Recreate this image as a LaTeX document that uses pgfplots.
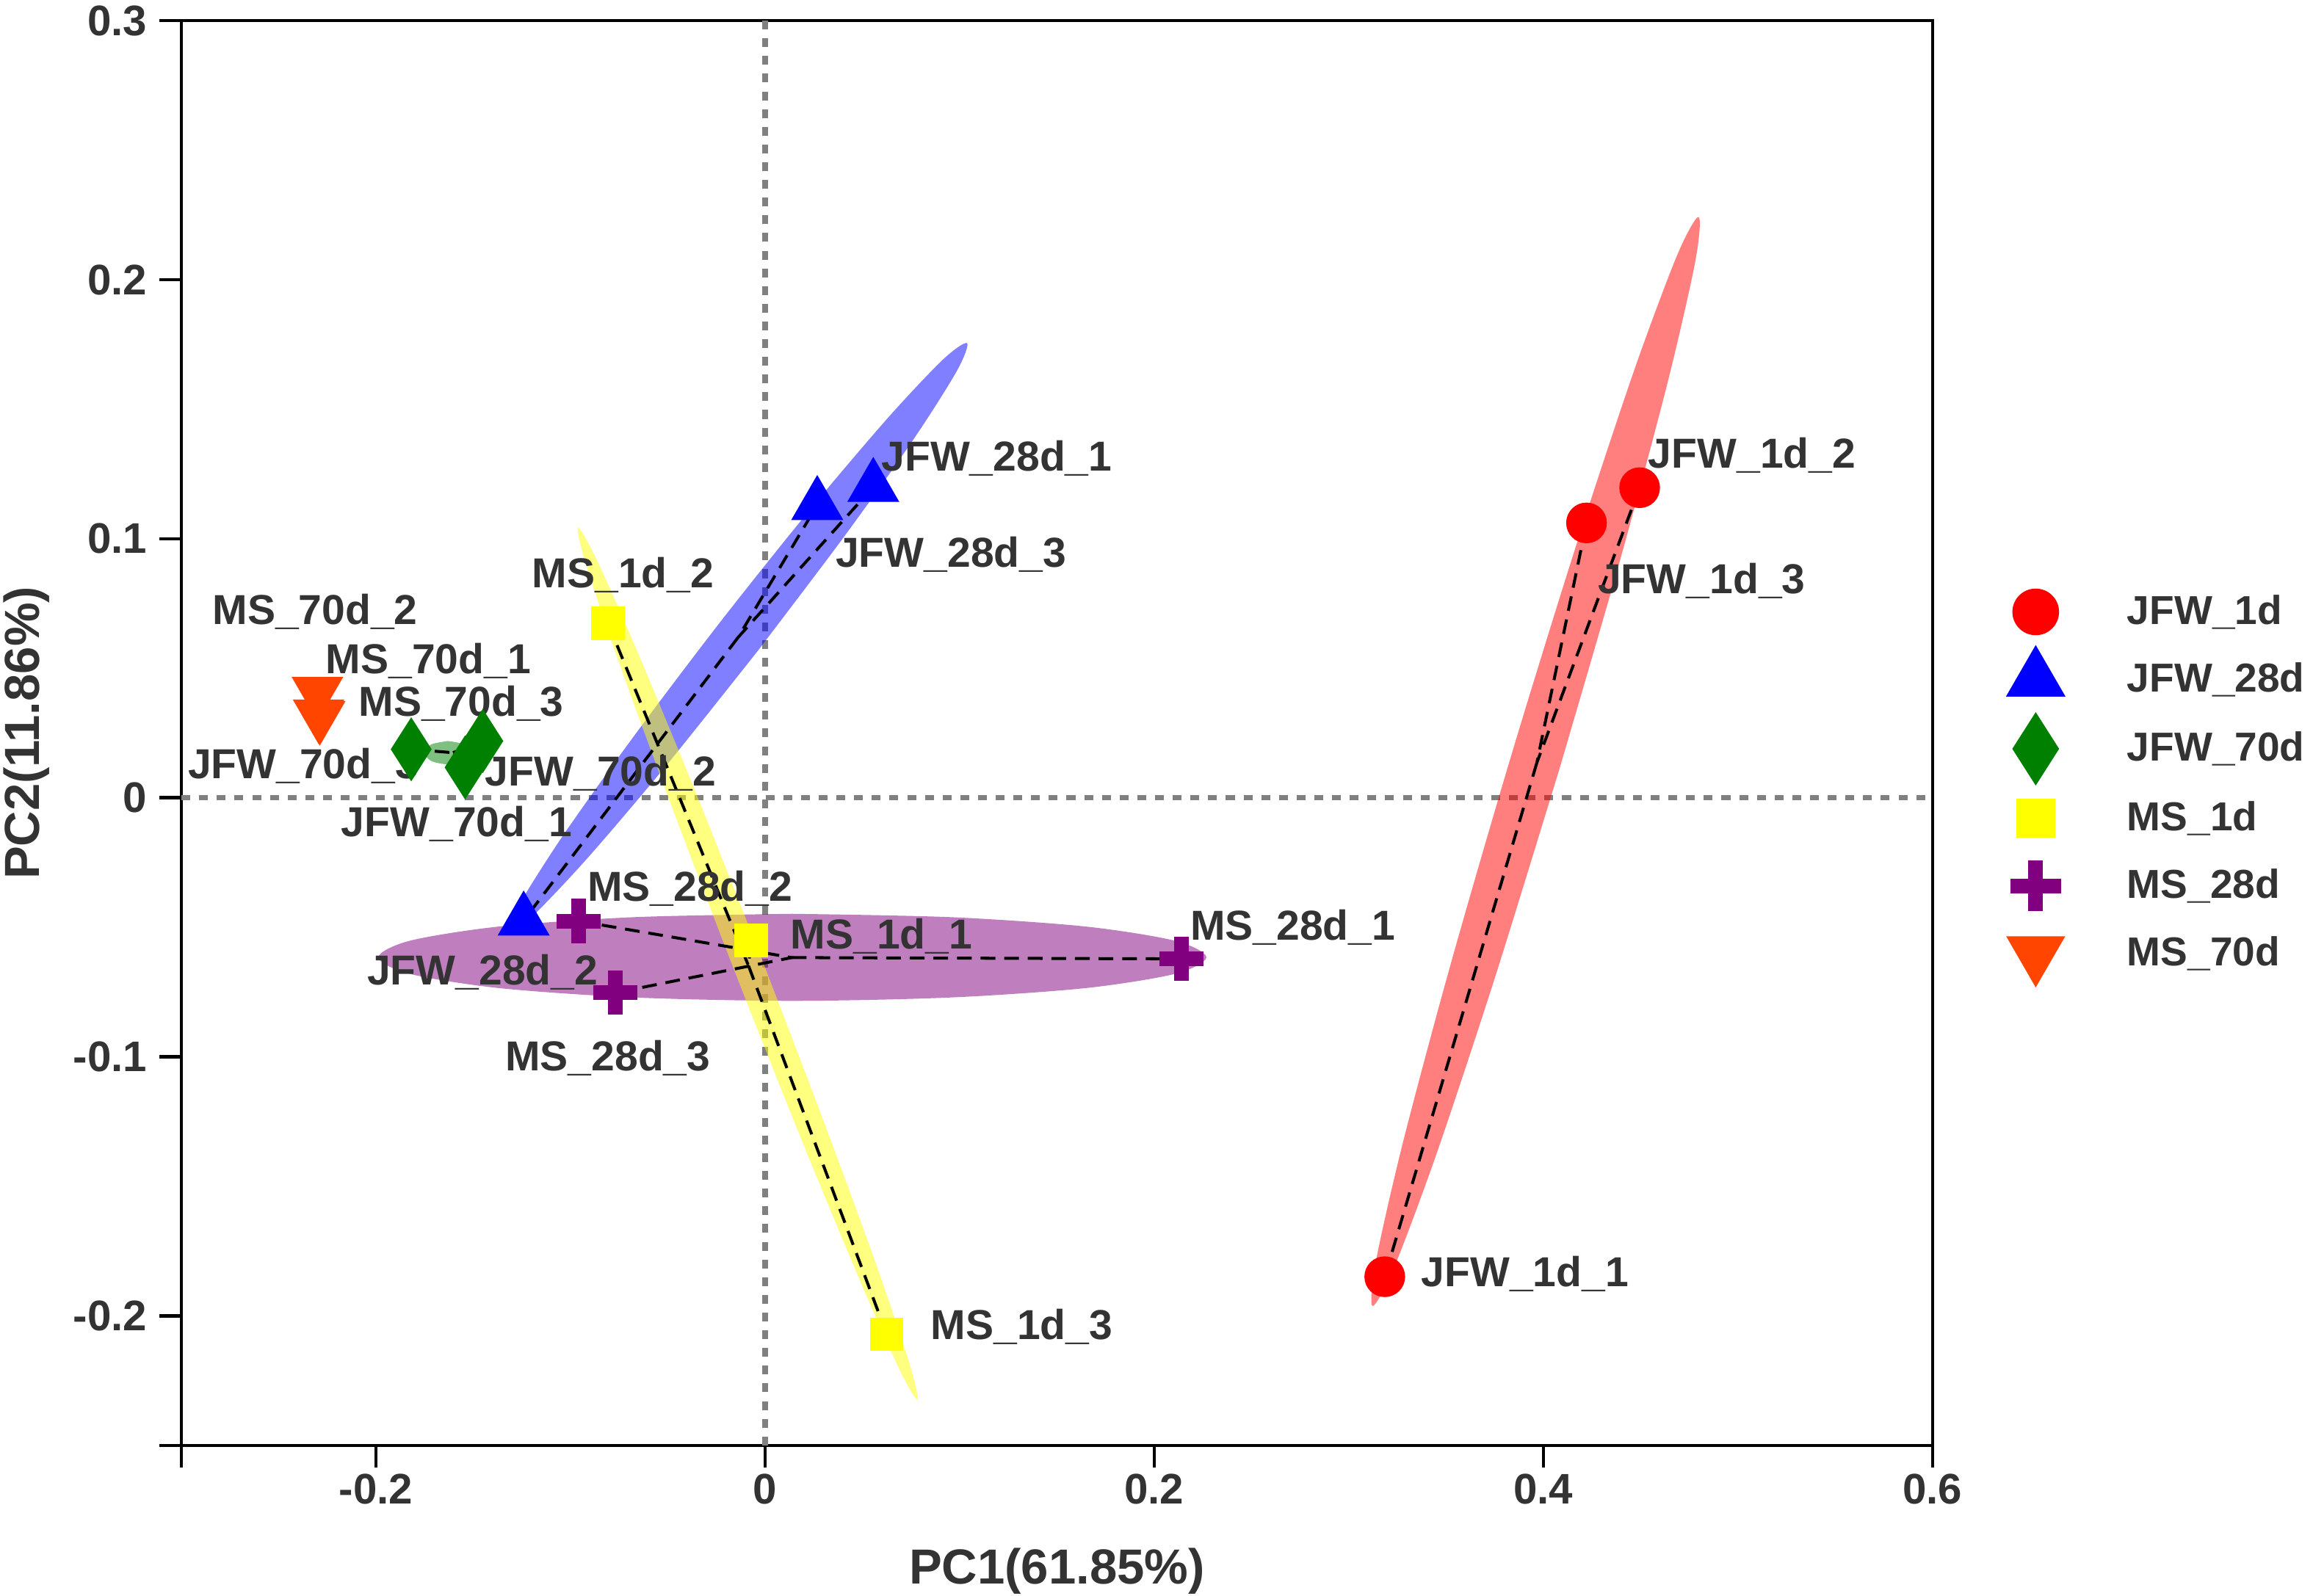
\documentclass[border=0pt]{standalone}
\usepackage{fontspec}
\setmainfont{Liberation Sans}
\usepackage{pgfplots}
\pgfplotsset{compat=1.18}
\definecolor{txt}{HTML}{333333}
\definecolor{c1}{HTML}{FF0000}
\definecolor{c2}{HTML}{0000FF}
\definecolor{c3}{HTML}{008000}
\definecolor{c4}{HTML}{FFFF00}
\definecolor{c5}{HTML}{800080}
\definecolor{c6}{HTML}{FF4500}
\definecolor{refgray}{HTML}{808080}
\tikzset{
 lab/.style={anchor=base west, inner sep=0pt, font=\fontsize{14.2bp}{16bp}\selectfont\bfseries, text=txt},
}
\pgfplotsset{
 spider/.style={black, line width=1bp, dash pattern=on 5bp off 3bp, forget plot},
 ell/.style={draw=none, fill opacity=0.5, forget plot, smooth, tension=0.5},
}
\begin{document}
\begin{tikzpicture}
\begin{axis}[
 name=ax,
 width=593.5bp, height=483bp, scale only axis,
 xmin=-0.3, xmax=0.6, ymin=-0.25, ymax=0.3,
 clip=false,
 axis line style={line width=1.1bp, black},
 tick align=outside, tick pos=left,
 major tick length=7.5bp,
 major tick style={line width=1.1bp, black},
 xtick={-0.3,-0.2,0,0.2,0.4,0.6},
 xticklabels={,-0.2,0,0.2,0.4,0.6},
 ytick={-0.25,-0.2,-0.1,0,0.1,0.2,0.3},
 yticklabels={,-0.2,-0.1,0,0.1,0.2,0.3},
 tick label style={font=\fontsize{14.5bp}{16bp}\selectfont\bfseries, text=txt},
 xticklabel style={inner ysep=2bp},
 yticklabel style={inner xsep=4bp},
 xlabel={PC1(61.85\%)}, ylabel={PC2(11.86\%)},
 label style={font=\fontsize{16.7bp}{18bp}\selectfont\bfseries, text=txt},
 xlabel style={at={(axis description cs:0.5,-0.0973)}, anchor=base},
 ylabel style={at={(axis description cs:-0.0813,0.5)}, anchor=base},
 legend style={at={(axis description cs:1.0337,0.6087)}, anchor=north west,
   draw=none, fill=none, inner sep=0pt, outer sep=0pt, row sep=0pt,
   font=\fontsize{13.7bp}{15bp}\selectfont\bfseries,
   nodes={inner sep=0pt, text=txt},
   /tikz/every odd column/.append style={column sep=16bp}},
 legend cell align=left,
 legend image code/.code={\path[draw=none, fill=none] (-15bp,-11.45bp) rectangle (15bp,11.45bp);
   \draw[#1,/tikz/every mark/.append style={scale=1.15}] plot coordinates {(0bp,0bp)};},
]
% reference lines
\addplot[refgray, line width=1.9bp, dash pattern=on 3bp off 3bp, forget plot] coordinates {(0,-0.25) (0,0.3)};
\addplot[refgray, line width=1.9bp, dash pattern=on 3bp off 3bp, forget plot] coordinates {(-0.3,0) (0.6,0)};
% confidence ellipses
\addplot[ell, fill=c1] coordinates {
(0.4083,0.0112) (0.3753,-0.0690) (0.3455,-0.1366) (0.3233,-0.1813)
(0.3122,-0.1962) (0.3139,-0.1791) (0.3280,-0.1326) (0.3525,-0.0639) (0.3837,0.0168) (0.4167,0.0970) (0.4465,0.1646) (0.4687,0.2093)
(0.4798,0.2242) (0.4781,0.2071) (0.4640,0.1607) (0.4395,0.0919) (0.4083,0.0112)} -- cycle;
\addplot[ell, fill=c2] coordinates {
(-0.0041,0.0564) (-0.0498,0.0134) (-0.0900,-0.0222) (-0.1186,-0.0450)
(-0.1312,-0.0515) (-0.1259,-0.0407) (-0.1036,-0.0143) (-0.0675,0.0237) (-0.0233,0.0676) (0.0224,0.1106) (0.0626,0.1462) (0.0912,0.1690)
(0.1038,0.1755) (0.0985,0.1647) (0.0762,0.1383) (0.0401,0.1003) (-0.0041,0.0564)} -- cycle;
\addplot[ell, fill=c5] coordinates {
(0.0140,-0.0448) (-0.0674,-0.0461) (-0.1365,-0.0497) (-0.1826,-0.0552)
(-0.1988,-0.0616) (-0.1826,-0.0680) (-0.1365,-0.0735) (-0.0674,-0.0771) (0.0140,-0.0784) (0.0954,-0.0771) (0.1645,-0.0735) (0.2106,-0.0680)
(0.2268,-0.0616) (0.2106,-0.0552) (0.1645,-0.0497) (0.0954,-0.0461) (0.0140,-0.0448)} -- cycle;
\addplot[ell, fill=c4] coordinates {
(-0.0019,-0.0619) (0.0309,-0.1265) (0.0577,-0.1815) (0.0743,-0.2187)
(0.0782,-0.2323) (0.0688,-0.2203) (0.0477,-0.1845) (0.0178,-0.1303) (-0.0161,-0.0661) (-0.0489,-0.0015) (-0.0757,0.0535) (-0.0923,0.0907)
(-0.0962,0.1043) (-0.0868,0.0923) (-0.0657,0.0565) (-0.0358,0.0023) (-0.0019,-0.0619)} -- cycle;
\addplot[ell, fill=c3] coordinates {
(-0.1630,0.0219) (-0.1716,0.0206) (-0.1751,0.0174) (-0.1716,0.0142) (-0.1630,0.0129) (-0.1544,0.0142) (-0.1509,0.0174) (-0.1544,0.0206) (-0.1630,0.0219)} -- cycle;
% spider segments to group centroids
\addplot[spider] coordinates {(0.4495,0.1197) (0.3967,0.0136) (0.4222,0.1061)};
\addplot[spider] coordinates {(0.3967,0.0136) (0.3185,-0.1849)};
\addplot[spider] coordinates {(0.0556,0.1200) (-0.0139,0.0619) (0.0268,0.1130)};
\addplot[spider] coordinates {(-0.0139,0.0619) (-0.1241,-0.0474)};
\addplot[spider] coordinates {(-0.1819,0.0187) (-0.1604,0.0174) (-0.1542,0.0117)};
\addplot[spider] coordinates {(-0.1604,0.0174) (-0.1451,0.0219)};
\addplot[spider] coordinates {(-0.0807,0.0673) (-0.0085,-0.0649) (-0.0072,-0.0550)};
\addplot[spider] coordinates {(-0.0085,-0.0649) (0.0625,-0.2071)};
\addplot[spider] coordinates {(-0.0959,-0.0476) (0.0137,-0.0617) (-0.0771,-0.0753)};
\addplot[spider] coordinates {(0.0137,-0.0617) (0.2141,-0.0622)};
% samples
\addplot[only marks, mark=*, mark size=6.7bp, color=c1, mark options={draw=none, fill=c1}]
 coordinates {(0.3185,-0.1849) (0.4495,0.1197) (0.4222,0.1061)};
\addlegendentry{JFW\_1d}
\addplot[only marks, mark=triangle*, mark size=9.8bp, color=c2, mark options={draw=none, fill=c2}]
 coordinates {(0.0556,0.1200) (-0.1241,-0.0474) (0.0268,0.1130)};
\addlegendentry{JFW\_28d}
\addplot[only marks, mark=diamond*, mark size=10.5bp, color=c3, mark options={draw=none, fill=c3, xscale=0.85}]
 coordinates {(-0.1542,0.0117) (-0.1451,0.0219) (-0.1819,0.0187)};
\addlegendentry{JFW\_70d}
\addplot[only marks, mark=square*, mark size=5.5bp, color=c4, mark options={draw=none, fill=c4}]
 coordinates {(-0.0072,-0.0550) (-0.0807,0.0673) (0.0625,-0.2071)};
\addlegendentry{MS\_1d}
\addplot[only marks, mark=+, mark size=7.5bp, color=c5, mark options={line width=5bp, draw=c5}]
 coordinates {(0.2141,-0.0622) (-0.0959,-0.0476) (-0.0771,-0.0753)};
\addlegendentry{MS\_28d}
\addplot[only marks, mark=triangle*, mark size=9.7bp, color=c6, mark options={draw=none, fill=c6, rotate=180}]
 coordinates {(-0.2289,0.0316) (-0.2301,0.0409) (-0.2295,0.0322)};
\addlegendentry{MS\_70d}
% sample labels
\node[lab] at (axis cs:0.4537,0.1272) {JFW\_1d\_2};
\node[lab] at (axis cs:0.4278,0.0787) {JFW\_1d\_3};
\node[lab] at (axis cs:0.3370,-0.1887) {JFW\_1d\_1};
\node[lab] at (axis cs:0.0595,0.1261) {JFW\_28d\_1};
\node[lab] at (axis cs:0.0360,0.0890) {JFW\_28d\_3};
\node[lab] at (axis cs:-0.2048,-0.0722) {JFW\_28d\_2};
\node[lab] at (axis cs:-0.1200,0.0810) {MS\_1d\_2};
\node[lab] at (axis cs:0.0129,-0.0582) {MS\_1d\_1};
\node[lab] at (axis cs:0.0849,-0.2090) {MS\_1d\_3};
\node[lab] at (axis cs:-0.0916,-0.0398) {MS\_28d\_2};
\node[lab] at (axis cs:-0.1338,-0.1055) {MS\_28d\_3};
\node[lab] at (axis cs:0.2183,-0.0548) {MS\_28d\_1};
\node[lab] at (axis cs:-0.2843,0.0670) {MS\_70d\_2};
\node[lab] at (axis cs:-0.2260,0.0479) {MS\_70d\_1};
\node[lab] at (axis cs:-0.2092,0.0314) {MS\_70d\_3};
\node[lab] at (axis cs:-0.2969,0.0073) {JFW\_70d\_3};
\node[lab] at (axis cs:-0.1441,0.0047) {JFW\_70d\_2};
\node[lab] at (axis cs:-0.2181,-0.0150) {JFW\_70d\_1};
\end{axis}
\pgfresetboundingbox
\path ([xshift=-61.5bp,yshift=-51bp]ax.south west) rectangle ([xshift=129bp,yshift=7bp]ax.north east);
\end{tikzpicture}
\end{document}
